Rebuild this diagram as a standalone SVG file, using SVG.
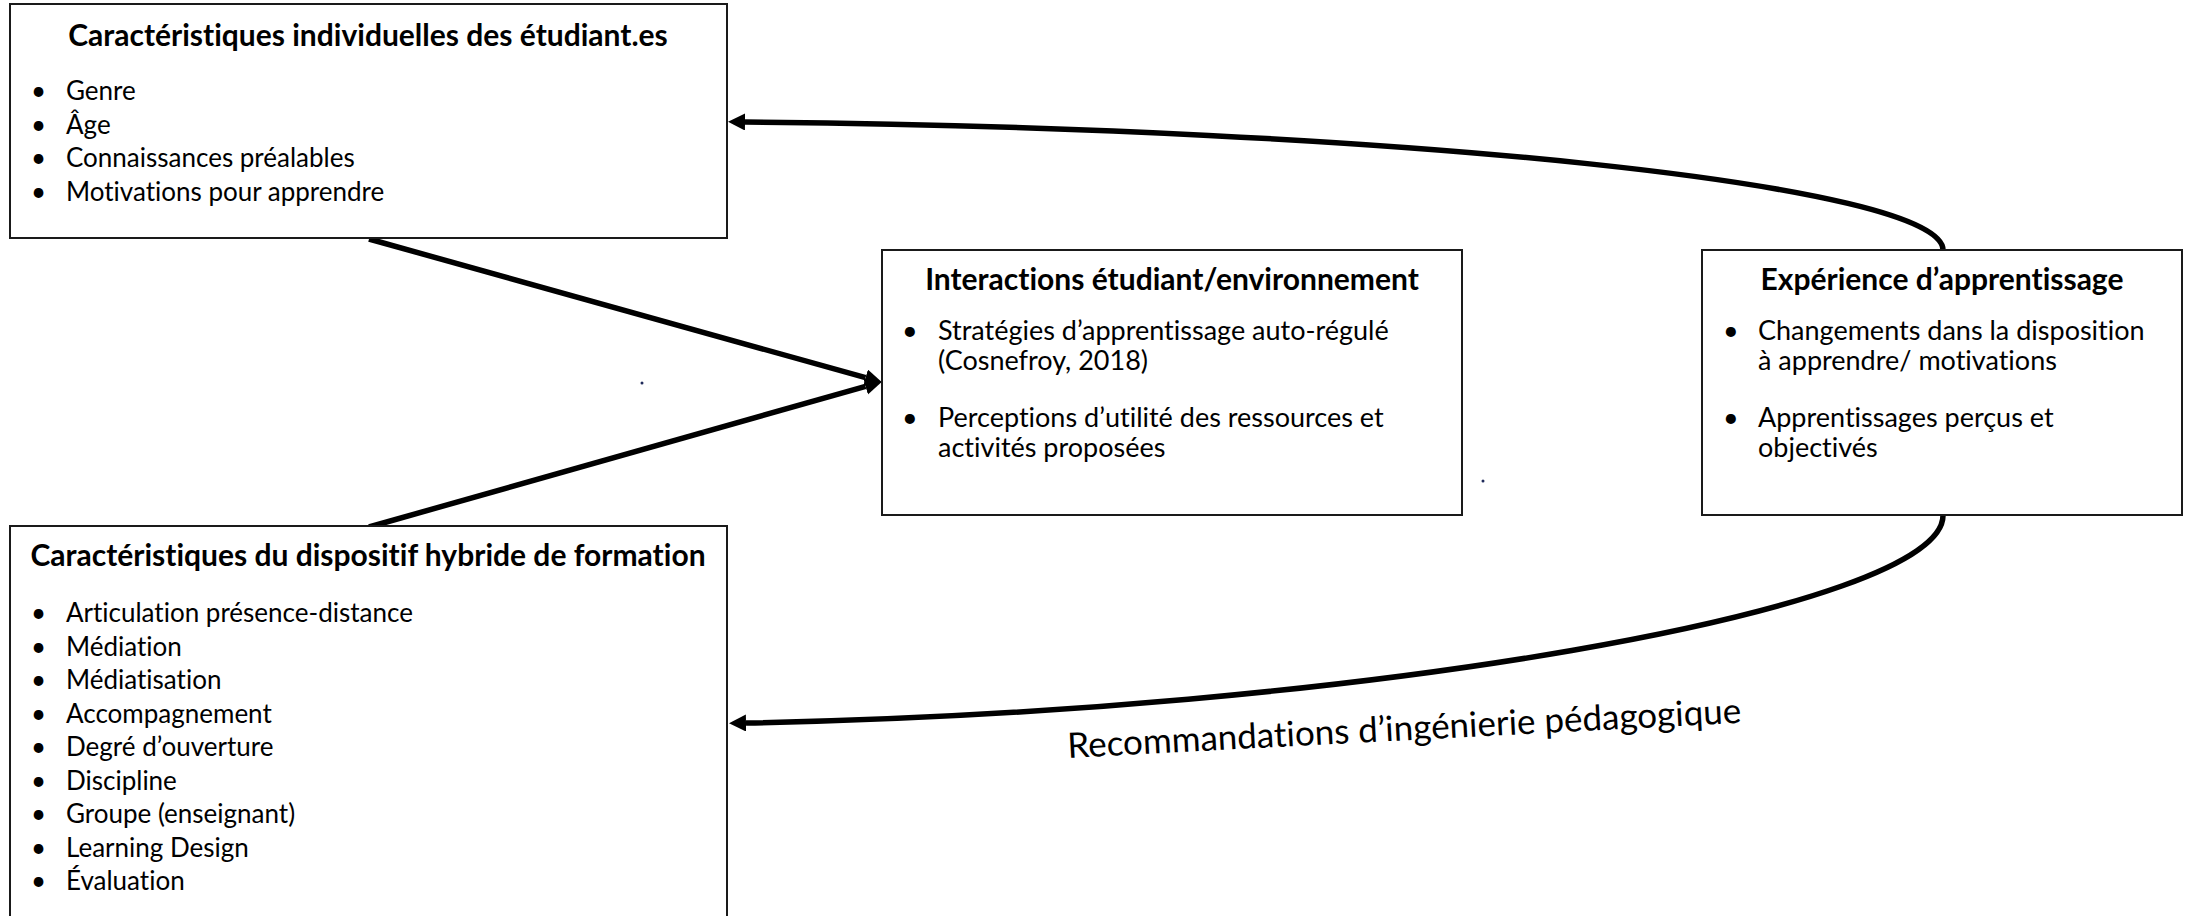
<svg xmlns="http://www.w3.org/2000/svg" width="2192" height="916" viewBox="0 0 2192 916">
<defs>
<style>
text{font-family:Lato,"Liberation Sans",sans-serif;fill:#000;font-variant-ligatures:none;font-feature-settings:"liga" 0,"clig" 0}
.box{fill:#ffffff;stroke:#1a1a1a;stroke-width:2}
.t{font-size:26px}
.tm{font-size:27px}
.h{font-size:30px;font-weight:bold;text-anchor:middle}
.lbl{font-size:35px}
.con{fill:none;stroke:#000;stroke-width:5.5}
</style>
<marker id="ah" markerUnits="userSpaceOnUse" markerWidth="18" markerHeight="18" refX="0" refY="8.5" orient="auto">
<path d="M0,0 L17,8.5 L0,17 z" fill="#000"/>
</marker>
</defs>
<rect width="2192" height="916" fill="#ffffff"/>
<g id="connectors">
<path class="con" d="M369,239 L865.6,377.7" marker-end="url(#ah)"/>
<path class="con" d="M369,527 L865.6,386.4" marker-end="url(#ah)"/>
<path class="con" d="M1943,250 C1943,185 1400,128 745,122" marker-end="url(#ah)"/>
<path class="con" d="M1943,515 C1945,610 1350,712 746,723" marker-end="url(#ah)"/>
</g>
<g id="node-individuelles">
<rect class="box" x="10" y="4" width="717" height="234"/>
<text class="h" x="368" y="46">Caractéristiques individuelles des étudiant.es</text>
<text class="t" x="31" y="100">•</text><text class="t" x="66" y="100">Genre</text>
<text class="t" x="31" y="133.5">•</text><text class="t" x="66" y="133.5">Âge</text>
<text class="t" x="31" y="167">•</text><text class="t" x="66" y="167">Connaissances préalables</text>
<text class="t" x="31" y="200.5">•</text><text class="t" x="66" y="200.5">Motivations pour apprendre</text>
</g>
<g id="node-dispositif">
<rect class="box" x="10" y="526" width="717" height="400"/>
<text class="h" x="368" y="566">Caractéristiques du dispositif hybride de formation</text>
<text class="t" x="31" y="622">•</text><text class="t" x="66" y="622">Articulation présence-distance</text>
<text class="t" x="31" y="655.5">•</text><text class="t" x="66" y="655.5">Médiation</text>
<text class="t" x="31" y="689">•</text><text class="t" x="66" y="689">Médiatisation</text>
<text class="t" x="31" y="722.5">•</text><text class="t" x="66" y="722.5">Accompagnement</text>
<text class="t" x="31" y="756">•</text><text class="t" x="66" y="756">Degré d’ouverture</text>
<text class="t" x="31" y="789.5">•</text><text class="t" x="66" y="789.5">Discipline</text>
<text class="t" x="31" y="823">•</text><text class="t" x="66" y="823">Groupe (enseignant)</text>
<text class="t" x="31" y="856.5">•</text><text class="t" x="66" y="856.5">Learning Design</text>
<text class="t" x="31" y="890">•</text><text class="t" x="66" y="890">Évaluation</text>
</g>
<g id="node-interactions">
<rect class="box" x="882" y="250" width="580" height="265"/>
<text class="h" x="1172" y="290">Interactions étudiant/environnement</text>
<text class="tm" x="902" y="340">•</text>
<text class="tm" x="938" y="340">Stratégies d’apprentissage auto-régulé<tspan x="938" dy="30">(Cosnefroy, 2018)</tspan></text>
<text class="tm" x="902" y="427">•</text>
<text class="tm" x="938" y="427">Perceptions d’utilité des ressources et<tspan x="938" dy="30">activités proposées</tspan></text>
</g>
<g id="node-experience">
<rect class="box" x="1702" y="250" width="480" height="265"/>
<text class="h" x="1942" y="290">Expérience d’apprentissage</text>
<text class="tm" x="1723" y="340">•</text>
<text class="tm" x="1758" y="340">Changements dans la disposition<tspan x="1758" dy="30">à apprendre/ motivations</tspan></text>
<text class="tm" x="1723" y="427">•</text>
<text class="tm" x="1758" y="427">Apprentissages perçus et<tspan x="1758" dy="30">objectivés</tspan></text>
</g>
<g id="label-recommandations">
<text class="lbl" x="1068" y="758" transform="rotate(-3 1068 758)">Recommandations d’ingénierie pédagogique</text>
</g>
<g id="marks">
<circle cx="642" cy="383" r="1.5" fill="#1f2a5a"/>
<circle cx="1483" cy="481" r="1.5" fill="#1f2a5a"/>
</g>
</svg>
